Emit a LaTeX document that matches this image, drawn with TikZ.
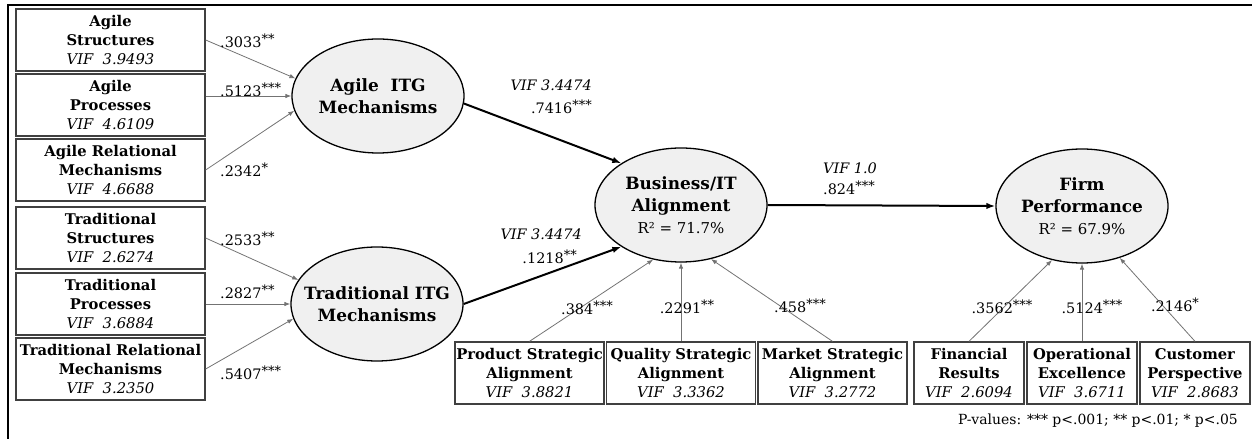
\documentclass[tikz,border=0pt]{standalone}
\usepackage{fontspec}
\setmainfont{DejaVu Serif}
\usetikzlibrary{arrows.meta, positioning, shapes.geometric, calc}

\newcommand{\vif}[1]{\textit{VIF~~#1}}
\newcommand{\sig}[1]{\raisebox{0.25em}{\fontsize{13}{13}\selectfont#1}}

\begin{document}
\begin{tikzpicture}[x=1bp, y=-1bp,
    indbox/.style={draw=black!75, line width=1.3bp, minimum width=189bp, minimum height=62bp,
        inner sep=0pt, align=center, font=\fontsize{14.8}{19}\selectfont},
    latent/.style={ellipse, draw, line width=1.3bp, fill=gray!12, minimum width=172bp,
        minimum height=114bp, inner xsep=-14bp, inner ysep=0pt, align=center,
        font=\fontsize{17}{22}\selectfont},
    load/.style={-{Latex[length=6bp,width=4.5bp]}, draw=black!55, line width=0.8bp},
    mainarrow/.style={-{Latex[length=9bp,width=6.5bp]}, line width=2bp},
    coef/.style={font=\fontsize{14.5}{16}\selectfont, inner sep=0pt}]
    \useasboundingbox (0,0) rectangle (1252,439);
    % frame
    \draw[line width=2bp] (8,439) -- (8,5) -- (1252,5);

    % left indicators
    \node[indbox] (as) at (110.5,40) {\textbf{Agile}\\\textbf{Structures}\\\vif{3.9493}};
    \node[indbox] (ap) at (110.5,105) {\textbf{Agile}\\\textbf{Processes}\\\vif{4.6109}};
    \node[indbox] (ar) at (110.5,170) {\textbf{Agile Relational}\\\textbf{Mechanisms}\\\vif{4.6688}};
    \node[indbox] (ts) at (110.5,238) {\textbf{Traditional}\\\textbf{Structures}\\\vif{2.6274}};
    \node[indbox] (tp) at (110.5,304) {\textbf{Traditional}\\\textbf{Processes}\\\vif{3.6884}};
    \node[indbox] (tr) at (110.5,369) {\textbf{Traditional Relational}\\\textbf{Mechanisms}\\\vif{3.2350}};

    % latent variables
    \node[latent] (agile) at (378,96) {\textbf{Agile~~ITG}\\\textbf{Mechanisms}};
    \node[latent] (trad) at (377,304) {\textbf{Traditional ITG}\\\textbf{Mechanisms}};
    \node[latent] (bit) at (681,205) {\textbf{Business/IT}\\\textbf{Alignment}\\{\fontsize{15}{22}\selectfont R² = 71.7\%}};
    \node[latent] (firm) at (1082,206) {\textbf{Firm}\\\textbf{Performance}\\{\fontsize{15}{22}\selectfont R² = 67.9\%}};

    % bottom indicators
    \node[indbox, minimum width=149bp] (psa) at (529.5,373) {\textbf{Product Strategic}\\\textbf{Alignment}\\\vif{3.8821}};
    \node[indbox, minimum width=149bp] (qsa) at (681,373) {\textbf{Quality Strategic}\\\textbf{Alignment}\\\vif{3.3362}};
    \node[indbox, minimum width=149bp] (msa) at (832.5,373) {\textbf{Market Strategic}\\\textbf{Alignment}\\\vif{3.2772}};
    \node[indbox, minimum width=110bp] (fin) at (969,373) {\textbf{Financial}\\\textbf{Results}\\\vif{2.6094}};
    \node[indbox, minimum width=110bp] (ope) at (1082,373) {\textbf{Operational}\\\textbf{Excellence}\\\vif{3.6711}};
    \node[indbox, minimum width=110bp] (cus) at (1195,373) {\textbf{Customer}\\\textbf{Perspective}\\\vif{2.8683}};

    % loadings
    \draw[load] (as.east) -- (agile.168);
    \draw[load] (ap.east |- agile.west) -- (agile.west);
    \draw[load] (ar.east) -- (agile.190);
    \draw[load] (ts.east) -- (trad.163);
    \draw[load] (tp.east) -- (trad.west);
    \draw[load] (tr.east) -- (trad.190);
    \draw[load] (psa.north) -- (bit.243);
    \draw[load] (qsa.north) -- (bit.south);
    \draw[load] (msa.north) -- (bit.299);
    \draw[load] (fin.north) -- (firm.241);
    \draw[load] (ope.north) -- (firm.south);
    \draw[load] (cus.north) -- (firm.306);

    % structural paths
    \draw[mainarrow] (agile.355) -- (bit.145);
    \draw[mainarrow] (trad.east) -- (bit.215);
    \draw[mainarrow] (bit.east) -- (firm.west);

    % coefficients
    \node[coef, anchor=west] (c1) at (220,41) {.3033\sig{**}};
    \node[coef, anchor=west] (c2) at (220,90) {.5123\sig{***}};
    \node[coef, anchor=west] (c3) at (220,170) {.2342\sig{*}};
    \node[coef, anchor=west] (c4) at (220,239) {.2533\sig{**}};
    \node[coef, anchor=west] (c5) at (220,292) {.2827\sig{**}};
    \node[coef, anchor=west] (c6) at (220,373) {.5407\sig{***}};
    \node[coef, anchor=east] (v1) at (592,85) {\textit{VIF 3.4474}};
    \node[coef, anchor=east] (c7) at (592,107) {.7416\sig{***}};
    \node[coef, anchor=east] (v2) at (582,234) {\textit{VIF 3.4474}};
    \node[coef, anchor=east] (c8) at (577,257) {.1218\sig{**}};
    \node[coef, anchor=west] (v3) at (823,168) {\textit{VIF 1.0}};
    \node[coef, anchor=west] (c9) at (823,188) {.824\sig{***}};
    \node[coef] (c10) at (587,308) {.384\sig{***}};
    \node[coef] (c11) at (687,307) {.2291\sig{**}};
    \node[coef] (c12) at (800,306) {.458\sig{***}};
    \node[coef] (c13) at (1002,307) {.3562\sig{***}};
    \node[coef] (c14) at (1092,307) {.5124\sig{***}};
    \node[coef] (c15) at (1175,305) {.2146\sig{*}};

    \node[coef, anchor=east, font=\fontsize{14}{16}\selectfont] (pval) at (1238,421)
        {P-values: *** p<.001; ** p<.01; * p<.05};
\end{tikzpicture}
\end{document}
